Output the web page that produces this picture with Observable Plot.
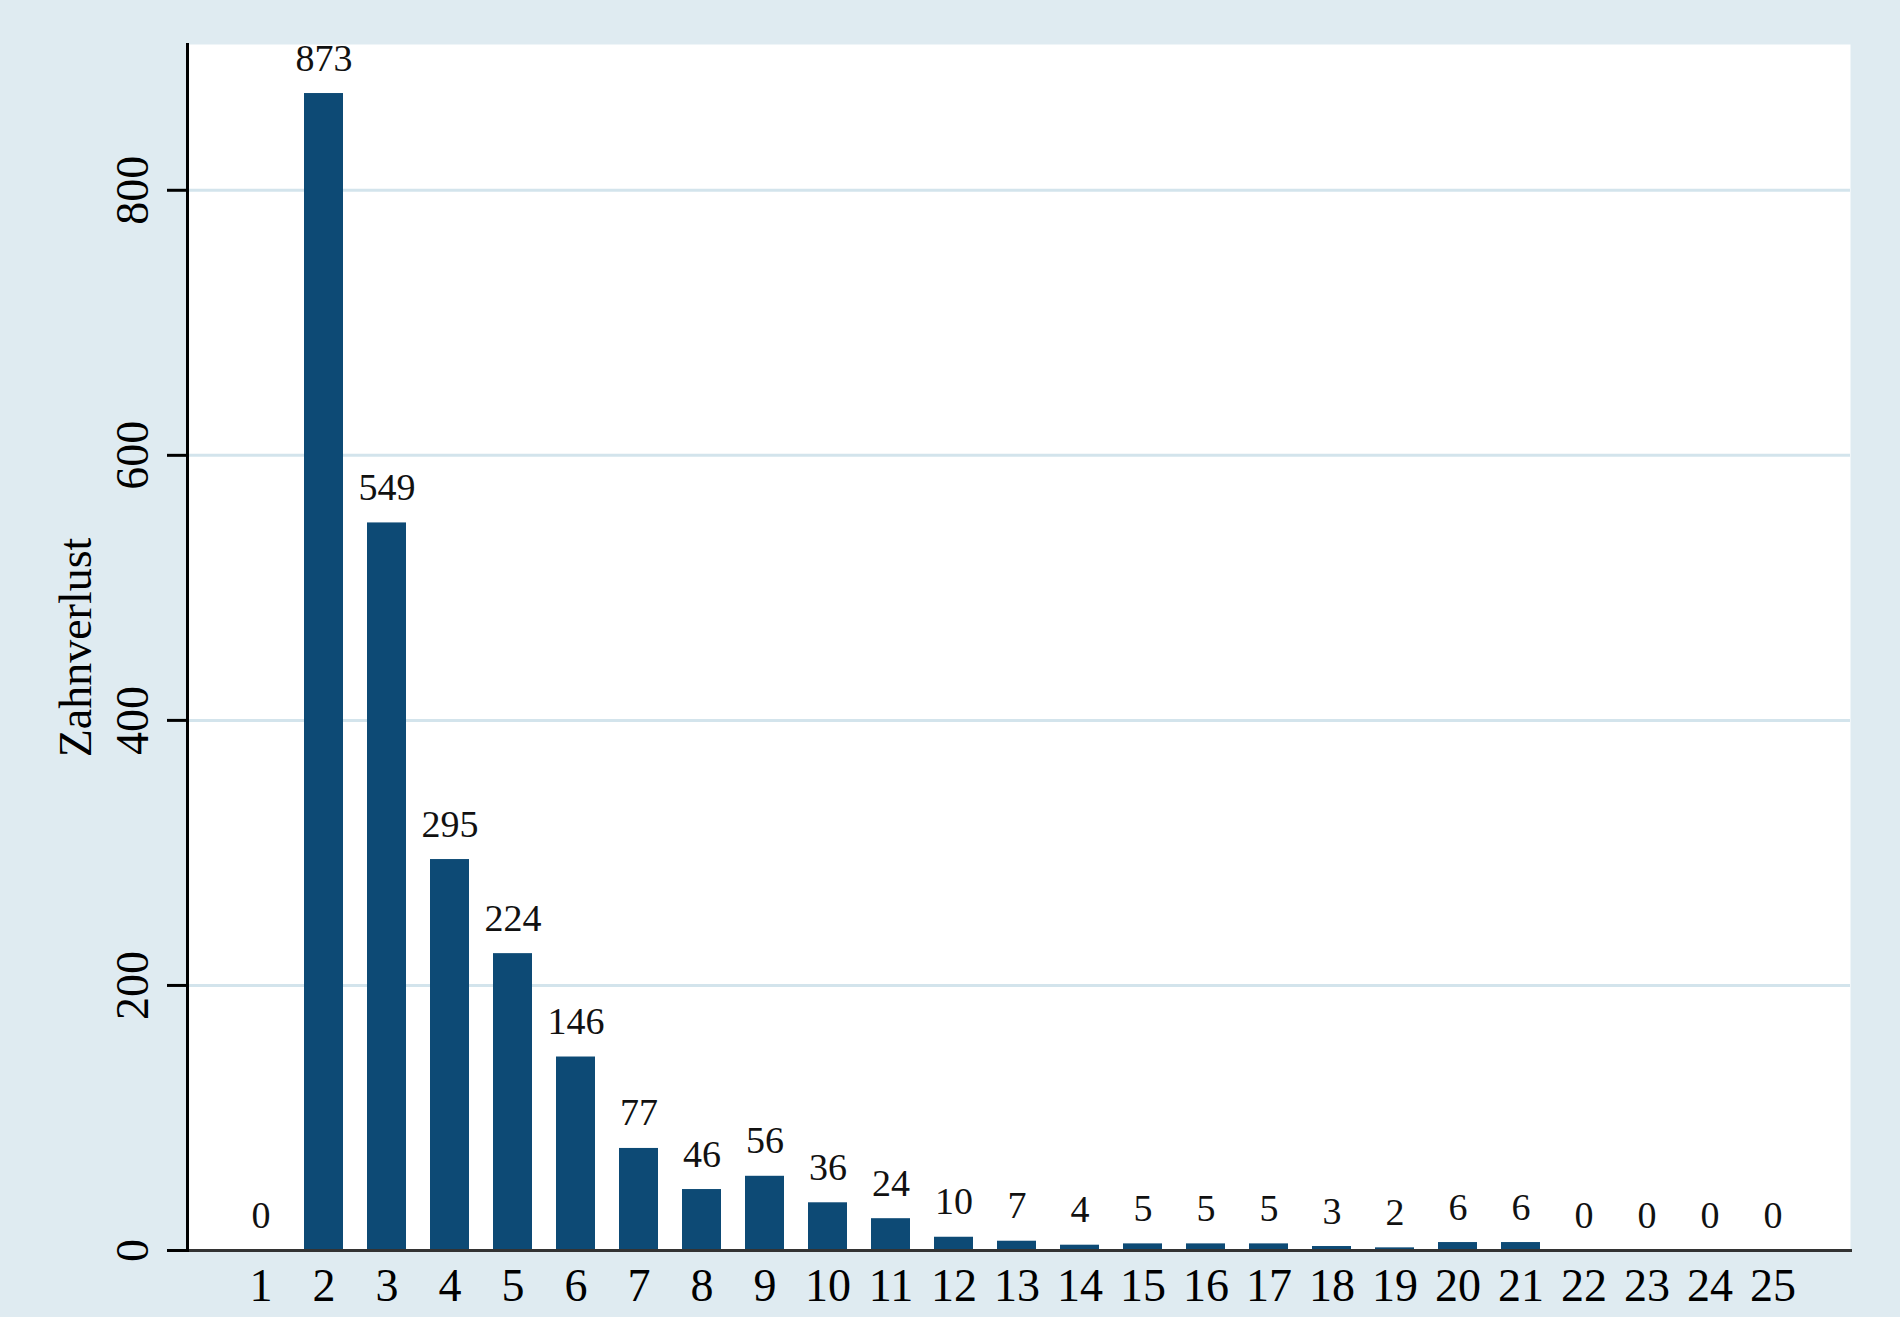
<!DOCTYPE html>
<html>
<head>
<meta charset="utf-8">
<script src="https://cdn.jsdelivr.net/npm/d3@7"></script>
<script src="https://cdn.jsdelivr.net/npm/@observablehq/plot@0.6"></script>
<style>
  html, body { margin: 0; padding: 0; background: #dfebf1; }
  #chart svg { display: block; }
</style>
</head>
<body>
<div id="chart"></div>
<script>
const categories = [1, 2, 3, 4, 5, 6, 7, 8, 9, 10, 11, 12, 13, 14, 15, 16, 17, 18, 19, 20, 21, 22, 23, 24, 25];
const counts = [0, 873, 549, 295, 224, 146, 77, 46, 56, 36, 24, 10, 7, 4, 5, 5, 5, 3, 2, 6, 6, 0, 0, 0, 0];
const yTicks = [0, 200, 400, 600, 800];
const gridTicks = [200, 400, 600, 800];
const yTitle = "Zahnverlust";

const data = categories.map((c, i) => ({cat: c, value: counts[i]}));

const chart = Plot.plot({
  width: 1900,
  height: 1317,
  marginLeft: 187,
  marginRight: 50,
  marginTop: 44,
  marginBottom: 67,
  style: {
    background: "#dfebf1",
    fontFamily: "'Liberation Serif', 'Times New Roman', serif",
    color: "#000"
  },
  x: {type: "band", domain: categories, paddingInner: 0.38, paddingOuter: 0.87, align: 0.48},
  y: {domain: [0, 910]},
  marks: [
    Plot.frame({fill: "white", stroke: null}),
    Plot.gridY(gridTicks, {stroke: "#d3e4ec", strokeOpacity: 1, strokeWidth: 3}),
    Plot.barY(data, {x: "cat", y: "value", fill: "#0d4a75"}),
    Plot.text(data, {x: "cat", y: "value", text: d => String(d.value), dy: -23, lineAnchor: "bottom", fontSize: 38, fill: "#111"}),
    Plot.frame({anchor: "bottom", stroke: "#333", strokeWidth: 3}),
    Plot.frame({anchor: "left", stroke: "#000", strokeWidth: 3}),
    Plot.axisY({ticks: yTicks, tickSize: 20, tickPadding: 20, tickRotate: -90, fontSize: 46, strokeWidth: 3, tickFormat: d => String(d), label: null}),
    Plot.axisX({tickSize: 0, tickPadding: 18, fontSize: 46, label: null, tickFormat: d => String(d)}),
    Plot.text([yTitle], {frameAnchor: "left", text: d => d, rotate: -90, dx: -111, textAnchor: "middle", lineAnchor: "middle", fontSize: 46, fill: "#000"})
  ]
});

document.getElementById("chart").appendChild(chart);
</script>
</body>
</html>
